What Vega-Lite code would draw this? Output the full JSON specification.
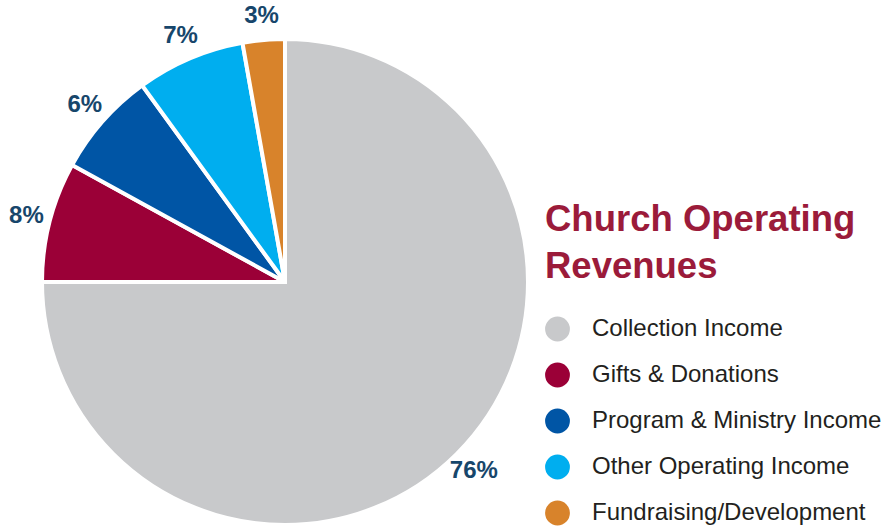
{
  "$schema": "https://vega.github.io/schema/vega-lite/v6.json",
  "width": 570,
  "height": 490,
  "autosize": {"type": "none"},
  "padding": {"left": 0, "top": 37, "right": 316, "bottom": 0},
  "background": "white",
  "data": {
    "values": [
      {"category": "Collection Income", "value": 75, "label": "76%", "order": 1},
      {"category": "Gifts & Donations", "value": 8, "label": "8%", "order": 2},
      {"category": "Program & Ministry Income", "value": 7, "label": "6%", "order": 3},
      {"category": "Other Operating Income", "value": 7.2, "label": "7%", "order": 4},
      {"category": "Fundraising/Development", "value": 2.8, "label": "3%", "order": 5}
    ]
  },
  "encoding": {
    "theta": {"field": "value", "type": "quantitative", "stack": true},
    "order": {"field": "order", "type": "quantitative"}
  },
  "layer": [
    {
      "mark": {"type": "arc", "outerRadius": 243, "stroke": "white", "strokeWidth": 4},
      "encoding": {
        "color": {
          "field": "category",
          "type": "nominal",
          "sort": null,
          "scale": {
            "domain": ["Collection Income", "Gifts & Donations", "Program & Ministry Income", "Other Operating Income", "Fundraising/Development"],
            "range": ["#c8c9cb", "#9b0037", "#0055a5", "#00aeef", "#d8832b"]
          },
          "legend": {
            "orient": "none",
            "legendX": 545,
            "legendY": 165,
            "title": ["Church Operating", "Revenues"],
            "titleFont": "Liberation Sans",
            "titleFontSize": 36.5,
            "titleFontWeight": "bold",
            "titleColor": "#9b1b3a",
            "titleLineHeight": 47,
            "titleLimit": 400,
            "titlePadding": 31,
            "symbolType": "circle",
            "symbolSize": 616,
            "symbolStrokeWidth": 0,
            "symbolOpacity": 1,
            "labelFont": "Liberation Sans",
            "labelFontSize": 24,
            "labelColor": "#231f20",
            "labelOffset": 22,
            "labelLimit": 400,
            "rowPadding": 21
          }
        }
      }
    },
    {
      "mark": {"type": "text", "radius": 267, "font": "Liberation Sans", "fontSize": 24, "fontWeight": "bold", "color": "#17466b"},
      "encoding": {
        "text": {"field": "label", "type": "nominal"}
      }
    }
  ]
}
